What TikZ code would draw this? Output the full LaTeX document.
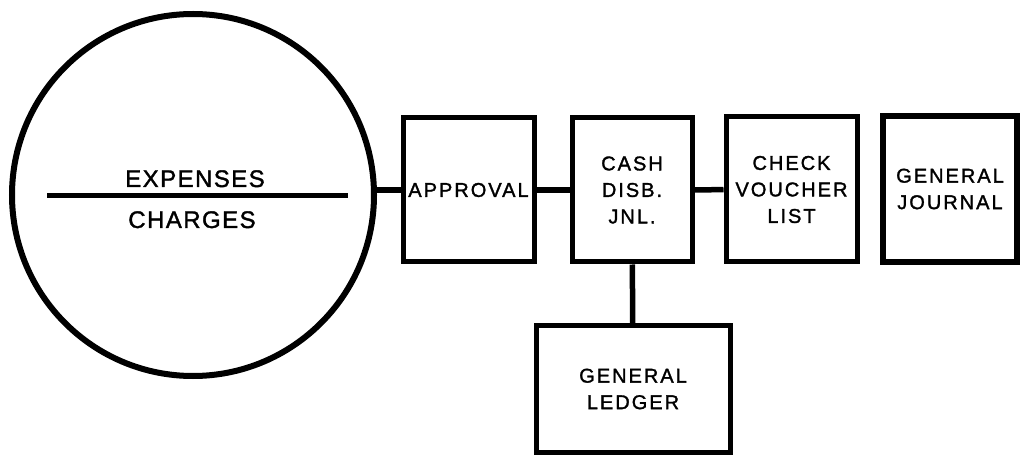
\documentclass[tikz,border=0pt]{standalone}
\usepackage{fontspec}
\setmainfont{Liberation Sans}[LetterSpace=6, FakeBold=1.5]
\newfontfamily\boxfont{Liberation Sans}[LetterSpace=10, FakeBold=1.5]
\begin{document}
\begin{tikzpicture}[x=1pt,y=-1pt,
  boxnode/.style={draw, line width=5pt, rectangle, inner sep=0pt, align=center,
    font=\boxfont\fontsize{20}{26.5}\selectfont},
  link/.style={line width=5.5pt},
  bigtext/.style={font=\fontsize{24}{28}\selectfont, inner sep=0pt, anchor=base}]
\useasboundingbox (0,0) rectangle (1021,457);
\node[draw, circle, line width=6pt, minimum size=362pt, inner sep=0pt] (circ) at (193,195) {};
\coordinate (ls) at (47,196);
\coordinate (le) at (348,196);
\draw[line width=5pt] (ls) -- (le);
\node[bigtext] (exp) at (195,187) {EXPENSES};
\node[bigtext] (chg) at (192,228) {CHARGES};
\node[boxnode, minimum width=131pt, minimum height=144pt] (app) at (468.5,190) {APPROVAL};
\node[boxnode, minimum width=120pt, minimum height=144pt] (cash) at (632,190) {CASH\\DISB.\\JNL.};
\node[boxnode, minimum width=131pt, minimum height=145pt] (check) at (791.5,189.5) {CHECK\\VOUCHER\\LIST};
\node[boxnode, line width=6.5pt, minimum width=134pt, minimum height=146pt] (gj) at (950,189) {GENERAL\\JOURNAL};
\node[boxnode, minimum width=194pt, minimum height=126pt] (gl) at (633,389) {GENERAL\\LEDGER};
\draw[link] (app.west) -- (app.west -| circ.east);
\draw[link] (app) -- (cash);
\draw[link] (cash) -- (check);
\draw[link] (cash) -- (gl);
\end{tikzpicture}
\end{document}
